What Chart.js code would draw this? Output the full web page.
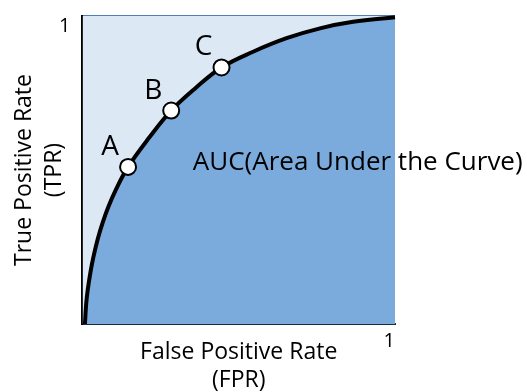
<!DOCTYPE html>
<html>
<head>
<meta charset="utf-8">
<script src="https://cdn.jsdelivr.net/npm/chart.js@4"></script>
<style>
  html, body { margin: 0; padding: 0; background: #fff; }
  #wrap { width: 527px; height: 392px; }
</style>
</head>
<body>
<div id="wrap"><canvas id="roc"></canvas></div>
<script>
// ROC curve (FPR on x, TPR on y)
const fpr = [0.008, 0.012, 0.017, 0.026, 0.035, 0.049, 0.065, 0.084, 0.106, 0.146, 0.215, 0.284, 0.364, 0.445, 0.546, 0.653, 0.76, 0.866, 1.0];
const tpr = [0, 0.066, 0.111, 0.170, 0.217, 0.276, 0.330, 0.383, 0.434, 0.51, 0.607, 0.693, 0.768, 0.833, 0.884, 0.928, 0.960, 0.981, 0.996];

// the three marked operating points
const pointNames = ['A', 'B', 'C'];
const pointFpr = [0.146, 0.284, 0.445];
const pointTpr = [0.51, 0.693, 0.833];

// only "1" is labelled on each axis
const tickValues = [1];
const xTitle = ['False Positive Rate', '(FPR)'];
const yTitle = ['True Positive Rate', '(TPR)'];
const aucLabel = 'AUC(Area Under the Curve)';

const aucAnchor = { x: 0.353, y: 0.523 };
const FONT = '"Open Sans"';

Chart.defaults.font.family = FONT;
Chart.defaults.color = '#000';

const curve = fpr.map((v, i) => ({ x: v, y: tpr[i] }));
const points = pointFpr.map((v, i) => ({ x: v, y: pointTpr[i] }));

const textPlugin = {
  id: 'textLabels',
  afterDatasetsDraw(chart) {
    const { ctx, scales: { x, y } } = chart;
    ctx.save();
    ctx.fillStyle = '#000';
    ctx.textBaseline = 'middle';
    ctx.textAlign = 'center';
    ctx.font = '28px ' + FONT;
    pointNames.forEach((name, i) => {
      ctx.fillText(name, x.getPixelForValue(pointFpr[i]) - 18, y.getPixelForValue(pointTpr[i]) - 20);
    });
    ctx.textAlign = 'left';
    ctx.font = '26px ' + FONT;
    ctx.fillText(aucLabel, x.getPixelForValue(aucAnchor.x), y.getPixelForValue(aucAnchor.y));
    ctx.restore();
  }
};

new Chart(document.getElementById('roc'), {
  type: 'scatter',
  data: {
    datasets: [
      {
        // whole square, light shade
        data: [{ x: 0, y: 1 }, { x: 1, y: 1 }],
        showLine: true,
        borderWidth: 0,
        pointRadius: 0,
        fill: 'origin',
        backgroundColor: '#dde8f5',
        order: 3
      },
      {
        data: curve,
        showLine: true,
        borderColor: '#000',
        borderWidth: 4,
        pointRadius: 0,
        tension: 0.4,
        fill: 'origin',
        backgroundColor: '#7aabdc',
        clip: false,
        order: 2
      },
      {
        data: points,
        pointRadius: 8,
        pointBorderWidth: 2,
        pointBackgroundColor: '#fff',
        pointBorderColor: '#000',
        order: 1
      }
    ]
  },
  options: {
    responsive: true,
    maintainAspectRatio: false,
    animation: false,
    layout: { padding: { top: 16, right: 132, left: 0, bottom: 0 } },
    plugins: { legend: { display: false }, tooltip: { enabled: false } },
    scales: {
      x: {
        type: 'linear',
        min: 0,
        max: 1,
        afterBuildTicks: axis => { axis.ticks = tickValues.map(v => ({ value: v })); },
        grid: { display: false, drawTicks: false },
        border: { color: '#1e2b3a', width: 2 },
        ticks: { align: 'end', padding: 5, font: { size: 20 } },
        title: {
          display: true,
          text: xTitle,
          font: { size: 23, lineHeight: 28 / 23 },
          padding: { top: -20, bottom: -2 }
        }
      },
      y: {
        type: 'linear',
        min: 0,
        max: 1,
        afterBuildTicks: axis => { axis.ticks = tickValues.map(v => ({ value: v })); },
        grid: { display: true, drawTicks: false, color: '#4f7fbb', lineWidth: 2 },
        border: { color: '#000', width: 2 },
        ticks: { align: 'start', padding: 12, font: { size: 20 } },
        title: {
          display: true,
          text: yTitle,
          font: { size: 23, lineHeight: 30 / 23 },
          padding: { top: 9, bottom: -22 }
        }
      }
    }
  },
  plugins: [textPlugin]
});
</script>
</body>
</html>
